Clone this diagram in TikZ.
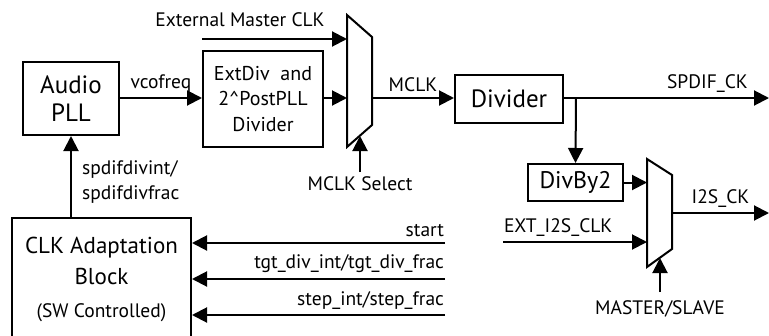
\documentclass[tikz,border=0pt]{standalone}
\usepackage{fontspec}
\setmainfont{PT Sans}
\usetikzlibrary{arrows.meta,positioning}
\tikzset{
  blk/.style={draw, line width=2pt, align=center, inner sep=0pt},
  sig/.style={draw, line width=2pt, -{Triangle[length=15pt,width=15pt]}},
  lbl/.style={inner sep=0pt, font=\fontsize{19.5}{25}\selectfont}
}
\begin{document}
\begin{tikzpicture}[x=1pt,y=-1pt]
  \useasboundingbox (0,0) rectangle (769,335);
  \clip (0,0) rectangle (769,335);
  % blocks
  \node[blk, minimum width=96, minimum height=73, font=\fontsize{25}{28}\selectfont] (pll) at (71,98.5) {Audio\\PLL};
  \node[blk, minimum width=120, minimum height=96, font=\fontsize{20}{25.5}\selectfont] (extdiv) at (263,99) {ExtDiv\ \ and\\2\^{}PostPLL\\Divider};
  \node[blk, minimum width=108, minimum height=48, font=\fontsize{25}{28}\selectfont] (div) at (509,99) {Divider};
  \node[blk, minimum width=95, minimum height=37, font=\fontsize{24}{27}\selectfont] (divby) at (575.5,182.5) {DivBy2};
  \node[blk, minimum width=179, minimum height=140] (clk) at (101.5,288) {};
  \node[align=center, inner sep=0pt, font=\fontsize{23}{31}\selectfont] (clktxt) at (101.5,279) {CLK Adaptation\\Block\\[2pt]{\fontsize{19.5}{22}\selectfont (SW Controlled)}};
  % muxes
  \coordinate (m1tl) at (347,15); \coordinate (m1tr) at (372,37);
  \coordinate (m1br) at (372,125); \coordinate (m1bl) at (347,147);
  \draw[line width=2pt, line join=miter] (m1tl) -- (m1tr) -- (m1br) -- (m1bl) -- cycle;
  \coordinate (m2tl) at (647,159); \coordinate (m2tr) at (672,175);
  \coordinate (m2br) at (672,249); \coordinate (m2bl) at (647,267);
  \draw[line width=2pt, line join=miter] (m2tl) -- (m2tr) -- (m2br) -- (m2bl) -- cycle;
  % upper path
  \coordinate (extin) at (202,39);
  \node[lbl] (extlbl) at (240,20) {External Master CLK};
  \draw[sig] (extin) -- (extin -| m1tl);
  \draw[sig] (pll.east |- 0,98) -- (extdiv.west |- 0,98) node[lbl, midway, above=5pt] (vco) {vcofreq};
  \draw[sig] (extdiv.east |- 0,98) -- (m1tl |- 0,98);
  \draw[sig] (m1tr |- 0,98) -- (div.west |- 0,98) node[lbl, midway, above=5pt] (mclk) {MCLK};
  \coordinate (spdifout) at (769,98);
  \draw[sig] (div.east |- spdifout) -- (spdifout) node[lbl, pos=0.7, above=5pt] (spdif) {SPDIF\_CK};
  \coordinate (mclksel) at (360,172);
  \draw[sig] (mclksel) -- (360,136);
  \node[lbl] (mclksellbl) at (360,184) {MCLK Select};
  % lower right
  \coordinate (br) at (576,98);
  \draw[sig] (br) -- (divby.north);
  \draw[sig] (divby.east) -- (divby.east -| m2tl);
  \coordinate (exti2s) at (503,242);
  \draw[sig] (exti2s) -- (exti2s -| m2tl) node[lbl, pos=0, above right=5pt and 0pt] (exti2slbl) {EXT\_I2S\_CLK};
  \coordinate (i2sout) at (769,213);
  \draw[sig] (i2sout -| m2tr) -- (i2sout) node[lbl, midway, above=5pt] (i2s) {I2S\_CK};
  \coordinate (mssel) at (660,292);
  \draw[sig] (mssel) -- (660,258);
  \node[lbl] (mslbl) at (660,309) {MASTER/SLAVE};
  % left side
  \draw[sig] (pll.south |- clk.north) -- (pll.south);
  \node[lbl, anchor=west, align=left] (spdifdiv) at (82,182) {spdifdivint/\\spdifdivfrac};
  \coordinate (startin) at (445,243);
  \coordinate (tgtin) at (445,279);
  \coordinate (stepin) at (445,315);
  \draw[sig] (startin) -- (startin -| clk.east) node[lbl, pos=0, above left=5pt and 0pt] (startlbl) {start};
  \draw[sig] (tgtin) -- (tgtin -| clk.east) node[lbl, pos=0, above left=5pt and 0pt] (tgtlbl) {tgt\_div\_int/tgt\_div\_frac};
  \draw[sig] (stepin) -- (stepin -| clk.east) node[lbl, pos=0, above left=5pt and 0pt] (steplbl) {step\_int/step\_frac};
\end{tikzpicture}
\end{document}
